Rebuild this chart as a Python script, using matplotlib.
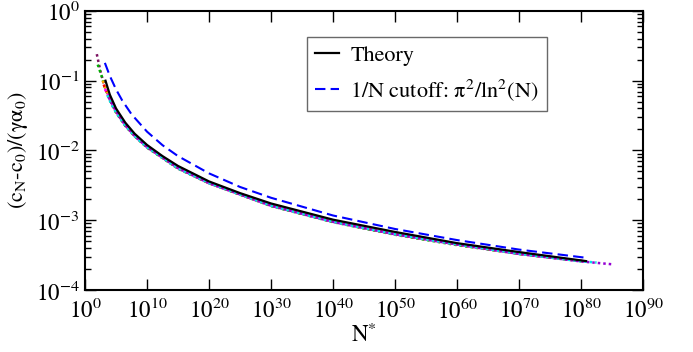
import matplotlib
matplotlib.use("Agg")
import matplotlib.pyplot as plt
from matplotlib.ticker import FixedLocator, NullLocator, LogLocator

plt.rcParams['font.family'] = ['STIXGeneral', 'Liberation Serif', 'DejaVu Serif']
plt.rcParams['mathtext.fontset'] = 'stix'

# ---- data (x given as log10 of N*) ----
theory_exp = [3.3, 4, 5, 6.5, 8, 10, 12.5, 15, 20, 25, 30, 40, 50, 60, 70, 80.8]
theory_val = [0.100, 0.063, 0.040, 0.025, 0.0174, 0.0120, 0.0083, 0.0060, 0.0036,
              0.00245, 0.00174, 0.00102, 0.00068, 0.00047, 0.00035, 0.00026]

cutoff_exp = [3.2, 4, 5, 6, 7.5, 10, 12.5, 15, 20, 25, 30, 40, 50, 60, 70, 80.8]
cutoff_val = [0.18, 0.117, 0.075, 0.052, 0.033, 0.0186, 0.0119, 0.0083, 0.0047,
              0.0030, 0.0021, 0.00117, 0.00075, 0.00052, 0.00038, 0.00029]

maroon_exp = [1.9, 2.5, 3, 4, 5, 6.5, 8, 10, 15, 20, 30, 40, 50, 60, 70, 80.5]
maroon_val = [0.24, 0.135, 0.093, 0.054, 0.036, 0.023, 0.0162, 0.0112, 0.0056, 0.0034,
              0.00162, 0.00095, 0.00063, 0.00045, 0.00033, 0.000258]

green_exp = [2.05, 2.7, 3.2, 4, 5, 6.5, 8, 10, 15, 20, 30, 40, 50, 60, 70, 80]
green_val = [0.17, 0.115, 0.080, 0.053, 0.035, 0.0225, 0.0160, 0.0110, 0.0055, 0.0034,
             0.00160, 0.00094, 0.00062, 0.00044, 0.00033, 0.00026]

orange_exp = [2.85, 3.3, 4, 5, 6.5, 8, 10, 15, 20, 30, 40, 50, 60, 70, 80.5]
orange_val = [0.100, 0.078, 0.055, 0.036, 0.0232, 0.0163, 0.0113, 0.0056, 0.0034,
              0.00163, 0.00096, 0.00063, 0.00045, 0.00033, 0.000258]

red_exp = [3.0, 3.5, 4, 5, 6.5, 8, 10, 15, 20, 30, 40, 50, 60, 70, 80]
red_val = [0.088, 0.068, 0.053, 0.0355, 0.0228, 0.0161, 0.0111, 0.0055, 0.0034,
           0.00161, 0.00095, 0.00063, 0.00045, 0.00033, 0.00026]

magenta_exp = [3.2, 3.7, 4.3, 5, 6.5, 8, 10, 15, 20, 30, 40, 50, 60, 70, 81]
magenta_val = [0.076, 0.062, 0.049, 0.036, 0.0230, 0.0162, 0.0112, 0.0056, 0.0034,
               0.00162, 0.00095, 0.00063, 0.00045, 0.00033, 0.000255]

cyan_exp = [3.6, 4.3, 5, 6.5, 8, 10, 15, 20, 30, 40, 50, 60, 70, 80, 82.5]
cyan_val = [0.062, 0.045, 0.035, 0.0226, 0.0160, 0.0111, 0.0055, 0.0034, 0.00161,
            0.00095, 0.00063, 0.00045, 0.00033, 0.000258, 0.000248]

violet_exp = [3.8, 4.5, 5.5, 6.5, 8, 10, 15, 20, 30, 40, 50, 60, 70, 80, 85]
violet_val = [0.058, 0.044, 0.031, 0.0230, 0.0162, 0.0112, 0.0056, 0.0034, 0.00162,
              0.00095, 0.00063, 0.00045, 0.00033, 0.000257, 0.000234]

dotted_series = [
    (maroon_exp, maroon_val, '#7b1060'),
    (green_exp, green_val, '#00b000'),
    (orange_exp, orange_val, '#ffa500'),
    (red_exp, red_val, '#ff0000'),
    (magenta_exp, magenta_val, '#ff00ff'),
    (cyan_exp, cyan_val, '#00e5e5'),
    (violet_exp, violet_val, '#9400d3'),
]

x_tick_exps = list(range(0, 100, 10))
y_tick_exps = [-4, -3, -2, -1, 0]

fig = plt.figure(figsize=(6.93, 3.52), dpi=100)
ax = fig.add_axes([0.1227, 0.176, 0.8053, 0.793])

for ex, val, col in dotted_series:
    ax.plot([10.0 ** e for e in ex], val, linestyle=(0, (1, 1.2)), color=col, lw=1.8)

ax.plot([10.0 ** e for e in theory_exp], theory_val, color='black', lw=1.6, label='Theory')
ax.plot([10.0 ** e for e in cutoff_exp], cutoff_val, color='#0000ff', lw=1.5,
        linestyle=(0, (5, 2.5)), label=r'1/N cutoff: $\mathrm{\pi^2/ln^2(N)}$')

ax.set_xscale('log')
ax.set_yscale('log')
ax.set_xlim(1, 1e90)
ax.set_ylim(1e-4, 1)
ax.xaxis.set_major_locator(FixedLocator([10.0 ** k for k in x_tick_exps]))
ax.xaxis.set_minor_locator(NullLocator())
ax.yaxis.set_major_locator(FixedLocator([10.0 ** k for k in y_tick_exps]))
ax.yaxis.set_minor_locator(LogLocator(base=10, subs=range(2, 10), numticks=20))

ax.tick_params(which='both', direction='in', top=True, right=True, labelsize=16.5, width=1.0)
ax.tick_params(which='major', length=8, pad=6)
ax.tick_params(axis='y', which='major', pad=4)
ax.tick_params(which='minor', length=4)
for s in ax.spines.values():
    s.set_linewidth(1.5)

ax.set_xlabel(r'N$^{*}$', fontsize=16.5, labelpad=0)
ax.set_ylabel(r'$\mathrm{(c_N}$-$\mathrm{c_0)/(\gamma\alpha_0)}$', fontsize=16, va='center')
ax.yaxis.set_label_coords(-0.12, 0.5)

leg = ax.legend(loc='upper left', bbox_to_anchor=(0.398, 0.905), fontsize=16, frameon=True,
                fancybox=False, edgecolor='#444444', handlelength=1.1, handletextpad=0.5,
                borderpad=0.35, labelspacing=0.5, borderaxespad=0)
leg.get_frame().set_linewidth(1.0)

fig.savefig('out.png', dpi=100)
